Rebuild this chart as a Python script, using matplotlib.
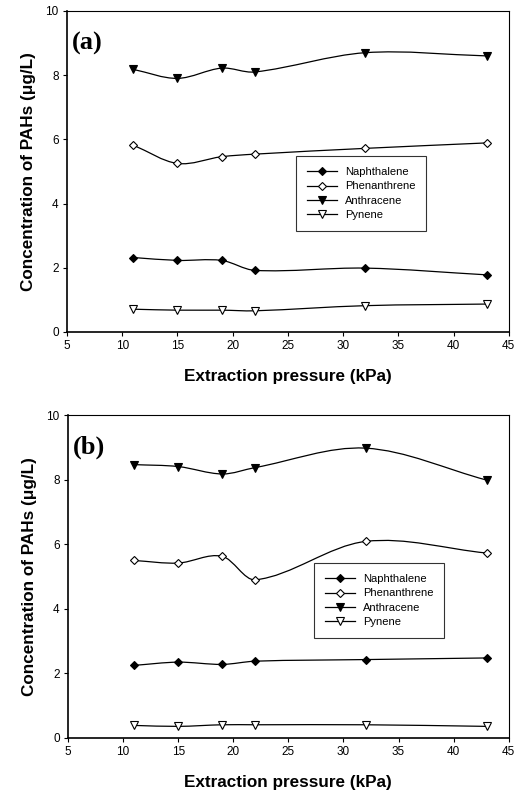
# PAH concentration vs extraction pressure, two panels (a) and (b)
import numpy as np
import matplotlib.pyplot as plt
from matplotlib.path import Path
from matplotlib.patches import PathPatch
from matplotlib.lines import Line2D

pressure = [11, 15, 19, 22, 32, 43]

naph_a = [2.32, 2.23, 2.23, 1.92, 1.99, 1.78]
phen_a = [5.82, 5.25, 5.46, 5.54, 5.72, 5.89]
anth_a = [8.18, 7.90, 8.22, 8.10, 8.70, 8.60]
pyr_a = [0.71, 0.68, 0.68, 0.66, 0.82, 0.87]

naph_b = [2.25, 2.35, 2.28, 2.38, 2.43, 2.48]
phen_b = [5.50, 5.42, 5.63, 4.90, 6.09, 5.73]
anth_b = [8.47, 8.41, 8.18, 8.38, 8.98, 7.99]
pyr_b = [0.39, 0.36, 0.41, 0.41, 0.41, 0.36]

names = ['Naphthalene', 'Phenanthrene', 'Anthracene', 'Pynene']
mstyle = [dict(marker='D', mfc='black', ms=4),
          dict(marker='D', mfc='white', ms=4),
          dict(marker='v', mfc='black', ms=6),
          dict(marker='v', mfc='white', ms=6)]


def smooth_path(x, y):
    # cubic hermite pieces as bezier segments (like the spline in the original)
    x = np.asarray(x, float)
    y = np.asarray(y, float)
    n = len(x)
    m = np.zeros(n)
    m[0] = (y[1] - y[0]) / (x[1] - x[0])
    m[-1] = (y[-1] - y[-2]) / (x[-1] - x[-2])
    for i in range(1, n - 1):
        m[i] = (y[i + 1] - y[i - 1]) / (x[i + 1] - x[i - 1])
    verts = [(x[0], y[0])]
    codes = [Path.MOVETO]
    for i in range(n - 1):
        h = x[i + 1] - x[i]
        verts += [(x[i] + h / 3, y[i] + m[i] * h / 3),
                  (x[i + 1] - h / 3, y[i + 1] - m[i + 1] * h / 3),
                  (x[i + 1], y[i + 1])]
        codes += [Path.CURVE4] * 3
    return Path(verts, codes)


def panel(ax, series, tag, legpos):
    for vals, st in zip(series, mstyle):
        ax.add_patch(PathPatch(smooth_path(pressure, vals), fill=False,
                               lw=0.9, ec='black'))
        ax.plot(pressure, vals, ls='none', mec='black', mew=0.8, **st)
    ax.set_xlim(5, 45)
    ax.set_ylim(0, 10)
    ax.set_xticks(range(5, 50, 5))
    ax.set_yticks(range(0, 12, 2))
    ax.tick_params(direction='out', length=3, width=0.8, labelsize=8.5, pad=3)
    for t in ax.get_xticklabels() + ax.get_yticklabels():
        t.set_fontfamily('Liberation Sans')
    for s in ax.spines.values():
        s.set_linewidth(0.8)
    ax.spines['left'].set_linewidth(1.2)
    ax.spines['bottom'].set_linewidth(1.2)
    ax.set_xlabel('Extraction pressure (kPa)', fontsize=12.3, fontweight='bold',
                  family='Liberation Sans', labelpad=12)
    ax.set_ylabel('Concentration of PAHs (\u03bcg/L)', fontsize=12.3,
                  fontweight='bold', family='Liberation Sans', labelpad=7)
    ax.text(0.012, 0.9, tag, transform=ax.transAxes, fontsize=19,
            fontweight='bold', family='Liberation Serif', va='center')
    handles = [Line2D([], [], color='black', lw=0.9, mec='black', mew=0.8, **st)
               for st in mstyle]
    leg = ax.legend(handles, names, loc='upper left', bbox_to_anchor=legpos,
                    frameon=True, fancybox=False, edgecolor='black',
                    handlelength=2.7, handletextpad=0.7, borderpad=1.0,
                    labelspacing=0.38, borderaxespad=0,
                    prop={'family': 'Liberation Sans', 'size': 8})
    leg.get_frame().set_linewidth(0.8)


fig = plt.figure(figsize=(5.21, 7.95), dpi=100)
ax1 = fig.add_axes([0.1286, 0.5824, 0.848, 0.4038])
ax2 = fig.add_axes([0.1305, 0.0717, 0.846, 0.406])

panel(ax1, [naph_a, phen_a, anth_a, pyr_a], '(a)', (0.518, 0.548))
panel(ax2, [naph_b, phen_b, anth_b, pyr_b], '(b)', (0.558, 0.542))

plt.savefig('out.png', dpi=100)
